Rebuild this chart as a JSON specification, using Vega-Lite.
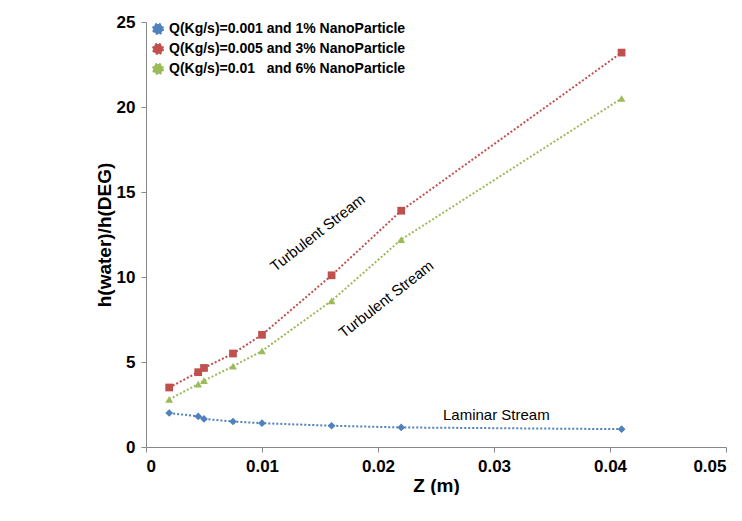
{
  "$schema": "https://vega.github.io/schema/vega-lite/v6.json",
  "width": 580,
  "height": 425,
  "padding": {"left": 95, "top": 13, "right": 0, "bottom": 0},
  "datasets": {
    "pts": [
      {"Z": 0.002, "h": 2.0, "s": "Q(Kg/s)=0.001 and 1% NanoParticle"},
      {"Z": 0.0045, "h": 1.8, "s": "Q(Kg/s)=0.001 and 1% NanoParticle"},
      {"Z": 0.005, "h": 1.65, "s": "Q(Kg/s)=0.001 and 1% NanoParticle"},
      {"Z": 0.0075, "h": 1.5, "s": "Q(Kg/s)=0.001 and 1% NanoParticle"},
      {"Z": 0.01, "h": 1.4, "s": "Q(Kg/s)=0.001 and 1% NanoParticle"},
      {"Z": 0.016, "h": 1.25, "s": "Q(Kg/s)=0.001 and 1% NanoParticle"},
      {"Z": 0.022, "h": 1.15, "s": "Q(Kg/s)=0.001 and 1% NanoParticle"},
      {"Z": 0.041, "h": 1.05, "s": "Q(Kg/s)=0.001 and 1% NanoParticle"},
      {"Z": 0.002, "h": 3.5, "s": "Q(Kg/s)=0.005 and 3% NanoParticle"},
      {"Z": 0.0045, "h": 4.4, "s": "Q(Kg/s)=0.005 and 3% NanoParticle"},
      {"Z": 0.005, "h": 4.65, "s": "Q(Kg/s)=0.005 and 3% NanoParticle"},
      {"Z": 0.0075, "h": 5.5, "s": "Q(Kg/s)=0.005 and 3% NanoParticle"},
      {"Z": 0.01, "h": 6.6, "s": "Q(Kg/s)=0.005 and 3% NanoParticle"},
      {"Z": 0.016, "h": 10.1, "s": "Q(Kg/s)=0.005 and 3% NanoParticle"},
      {"Z": 0.022, "h": 13.9, "s": "Q(Kg/s)=0.005 and 3% NanoParticle"},
      {"Z": 0.041, "h": 23.2, "s": "Q(Kg/s)=0.005 and 3% NanoParticle"},
      {"Z": 0.002, "h": 2.8, "s": "Q(Kg/s)=0.01\u00a0\u00a0\u00a0and 6% NanoParticle"},
      {"Z": 0.0045, "h": 3.7, "s": "Q(Kg/s)=0.01\u00a0\u00a0\u00a0and 6% NanoParticle"},
      {"Z": 0.005, "h": 3.9, "s": "Q(Kg/s)=0.01\u00a0\u00a0\u00a0and 6% NanoParticle"},
      {"Z": 0.0075, "h": 4.75, "s": "Q(Kg/s)=0.01\u00a0\u00a0\u00a0and 6% NanoParticle"},
      {"Z": 0.01, "h": 5.65, "s": "Q(Kg/s)=0.01\u00a0\u00a0\u00a0and 6% NanoParticle"},
      {"Z": 0.016, "h": 8.6, "s": "Q(Kg/s)=0.01\u00a0\u00a0\u00a0and 6% NanoParticle"},
      {"Z": 0.022, "h": 12.2, "s": "Q(Kg/s)=0.01\u00a0\u00a0\u00a0and 6% NanoParticle"},
      {"Z": 0.041, "h": 20.5, "s": "Q(Kg/s)=0.01\u00a0\u00a0\u00a0and 6% NanoParticle"}
    ],
    "notes": [
      {"Z": 0.0148, "h": 12.6, "t": "Turbulent Stream", "a": -38},
      {"Z": 0.0207, "h": 8.7, "t": "Turbulent Stream", "a": -38},
      {"Z": 0.0302, "h": 1.9, "t": "Laminar Stream", "a": 0}
    ]
  },
  "layer": [
    {
      "data": {"name": "pts"},
      "mark": {"type": "line", "strokeDash": [2, 2], "strokeWidth": 2, "point": {"size": 60, "filled": true}},
      "encoding": {
        "x": {"field": "Z", "type": "quantitative", "title": "Z (m)", "scale": {"domain": [0, 0.05], "nice": false},
          "axis": {"values": [0, 0.01, 0.02, 0.03, 0.04, 0.05], "format": "~g", "grid": false}},
        "y": {"field": "h", "type": "quantitative", "title": "h(water)/h(DEG)", "scale": {"domain": [0, 25], "nice": false},
          "axis": {"values": [0, 5, 10, 15, 20, 25], "grid": false}},
        "color": {"field": "s", "type": "nominal", "title": null,
          "scale": {"range": ["#4F81BD", "#C0504D", "#9BBB59"]},
          "legend": {"orient": "none", "legendX": 5, "legendY": 0, "labelFontSize": 14, "labelFontWeight": "bold", "labelLimit": 400, "symbolStrokeWidth": 2, "symbolDash": [2, 2]}},
        "shape": {"field": "s", "type": "nominal", "scale": {"range": ["diamond", "square", "triangle-up"]}, "legend": null}
      }
    },
    {
      "data": {"name": "notes"},
      "mark": {"type": "text", "fontSize": 15, "font": "Liberation Sans"},
      "encoding": {
        "x": {"field": "Z", "type": "quantitative"},
        "y": {"field": "h", "type": "quantitative"},
        "text": {"field": "t"},
        "angle": {"field": "a", "type": "quantitative", "scale": null}
      }
    }
  ],
  "config": {
    "font": "Liberation Sans",
    "view": {"stroke": null},
    "axis": {"labelFontSize": 17, "labelFontWeight": "bold", "titleFontSize": 19, "titleFontWeight": "bold", "labelColor": "#000", "titleColor": "#000", "domainColor": "#888", "tickColor": "#888", "labelPadding": 6, "titlePadding": 2},
    "legend": {"labelColor": "#000"}
  }
}
